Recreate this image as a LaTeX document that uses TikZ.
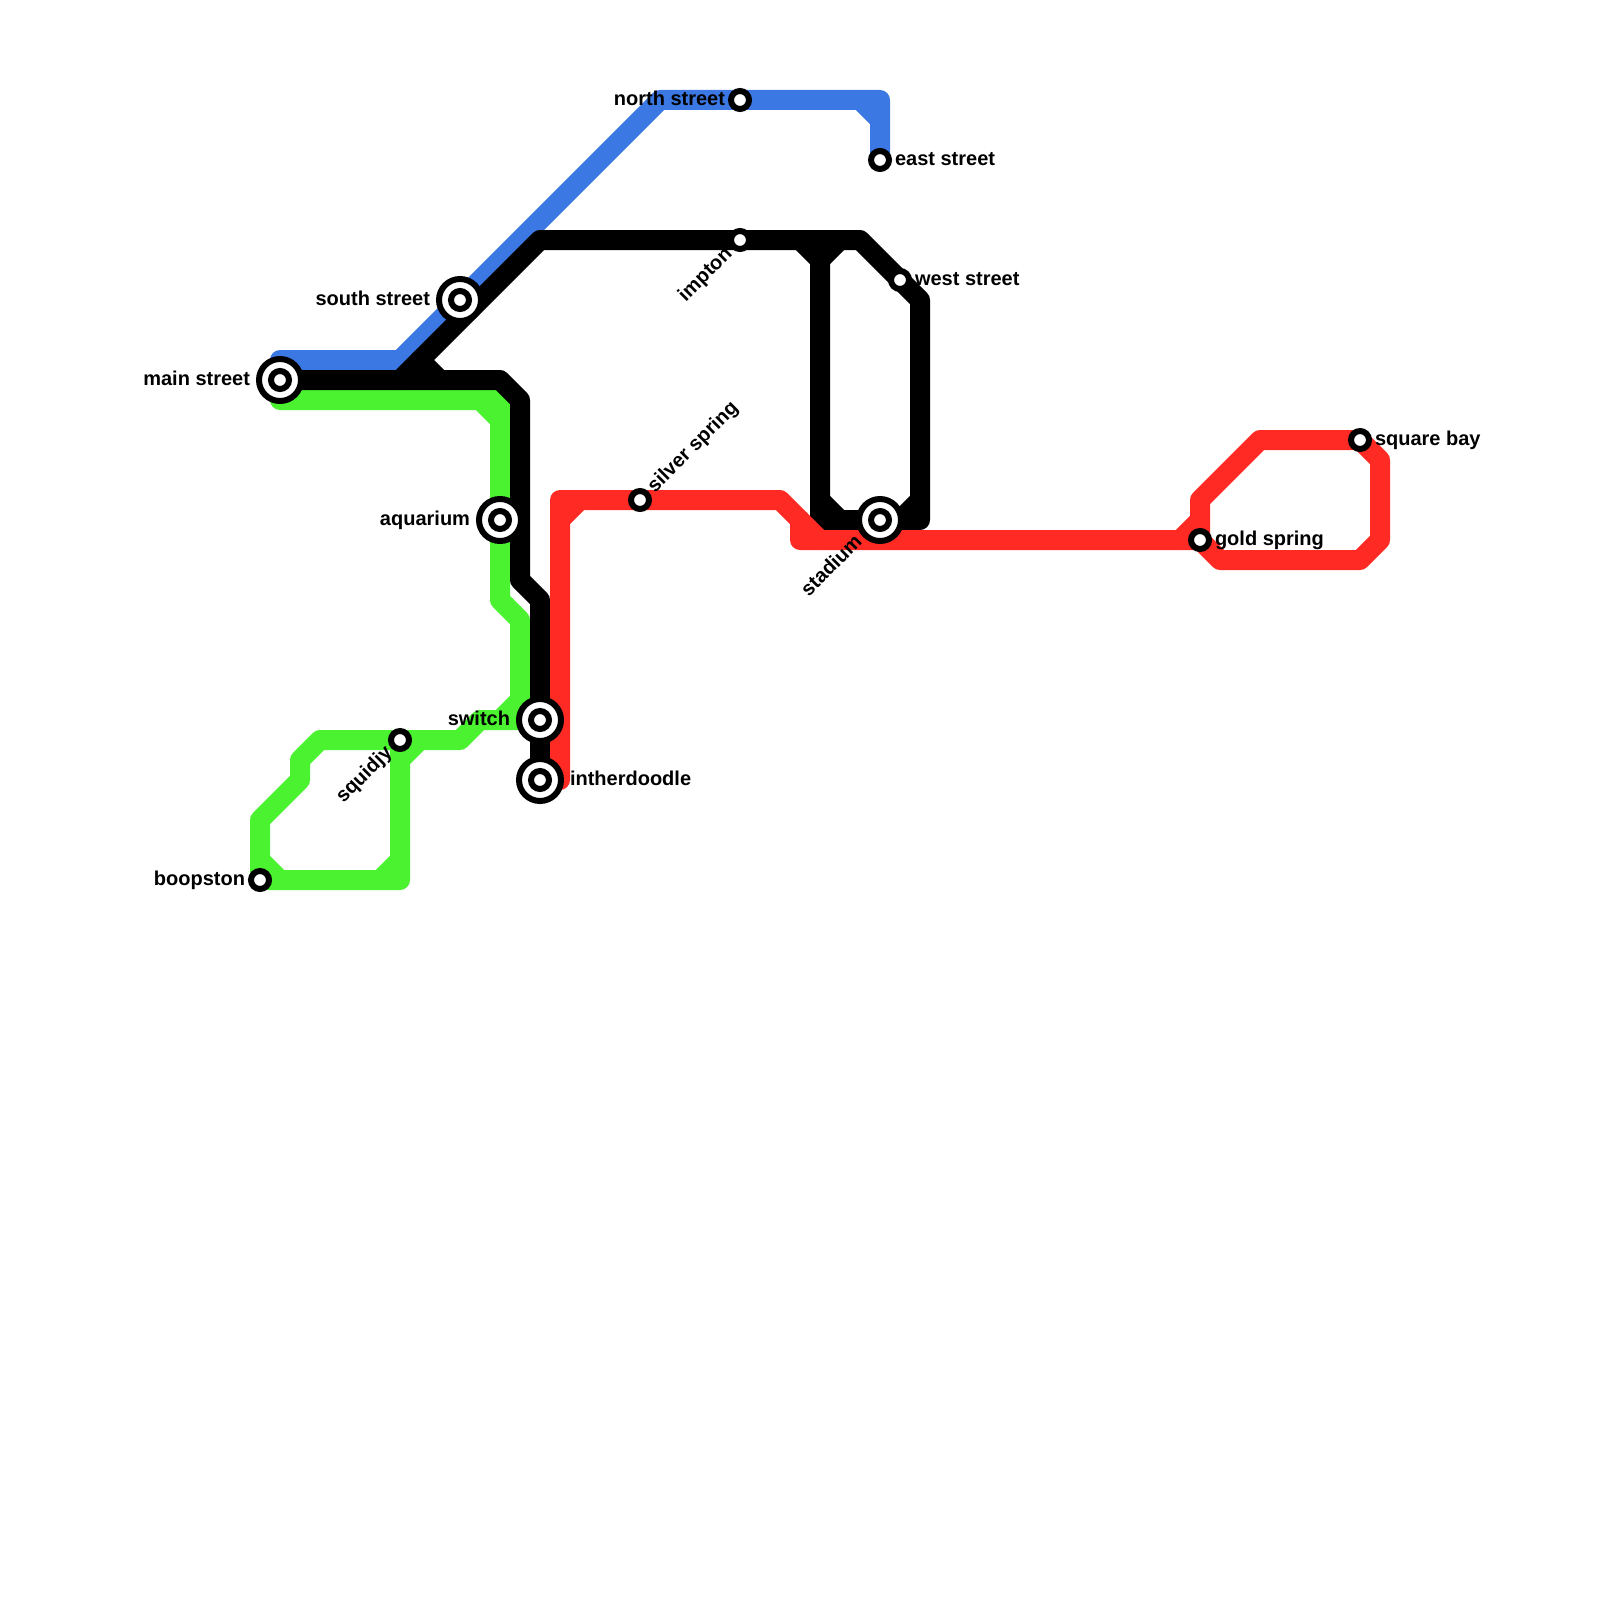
\documentclass[tikz,border=0pt]{standalone}
\usepackage{fontspec}
\setmainfont{Liberation Sans}
\definecolor{lineblue}{HTML}{3C78E4}
\definecolor{linegreen}{HTML}{4AF230}
\definecolor{linered}{HTML}{FF2A24}
\tikzset{
  route/.style={line width=10pt,line cap=round,line join=round},
  bigring/.style={circle,draw=black,fill=white,line width=3pt,minimum size=21pt,inner sep=0pt,outer sep=0pt},
  smallring/.style={circle,draw=black,fill=white,line width=3pt,minimum size=9pt,inner sep=0pt,outer sep=0pt},
  lbl/.style={inner sep=0pt,outer sep=0pt,text=black,font=\bfseries\fontsize{10}{12}\selectfont},
  lblL/.style={lbl,anchor=base east},
  lblR/.style={lbl,anchor=base west},
  lblDL/.style={lbl,anchor=base east,rotate=45},
  lblUR/.style={lbl,anchor=base west,rotate=45}
}
\begin{document}
\begin{tikzpicture}[x=0.5pt,y=-0.5pt]
\useasboundingbox (0,0) rectangle (1600,1600);
% station positions
\coordinate (pmain) at (280,380);
\coordinate (psouth) at (460,300);
\coordinate (paqua) at (500,520);
\coordinate (pswitch) at (540,720);
\coordinate (pinther) at (540,780);
\coordinate (psquid) at (400,740);
\coordinate (pboop) at (260,880);
\coordinate (pnorth) at (740,100);
\coordinate (peast) at (880,160);
\coordinate (pimp) at (740,240);
\coordinate (pwest) at (900,280);
\coordinate (psilver) at (640,500);
\coordinate (pstad) at (880,520);
\coordinate (pgold) at (1200,540);
\coordinate (psquare) at (1360,440);
% blue
\draw[route,lineblue] (280,360) -- (400,360) -- (psouth) -- (660,100) -- (pnorth) -- (880,100) -- (peast);
\draw[route,lineblue] (860,100) -- (880,120);
% green
\draw[route,linegreen] (280,400) -- (500,400) -- (paqua) -- (500,600) -- (520,620) -- (520,700) -- (500,720);
\draw[route,linegreen] (480,400) -- (500,420);
\draw[route,linegreen] (pswitch) -- (480,720) -- (460,740) -- (psquid) -- (320,740) -- (300,760) -- (300,780) -- (260,820) -- (pboop) -- (400,880) -- (psquid);
\draw[route,linegreen] (260,860) -- (280,880);
\draw[route,linegreen] (380,880) -- (400,860);
\draw[route,linegreen] (400,760) -- (420,740);
% black
\draw[route,black] (pmain) -- (500,380) -- (520,400) -- (520,580) -- (540,600) -- (pswitch) -- (pinther);
\draw[route,black] (400,380) -- (540,240) -- (pimp) -- (860,240) -- (pwest) -- (920,300) -- (920,520) -- (pstad) -- (820,520) -- (820,240);
\draw[route,black] (420,360) -- (440,380);
\draw[route,black] (800,240) -- (820,260) -- (840,240);
\draw[route,black] (820,500) -- (840,520);
\draw[route,black] (900,520) -- (920,500);
% red
\draw[route,linered] (560,780) -- (560,500) -- (psilver) -- (780,500) -- (800,520) -- (800,540) -- (pgold) -- (1200,500) -- (1260,440) -- (psquare) -- (1380,460) -- (1380,540) -- (1360,560) -- (1220,560) -- (pgold);
\draw[route,linered] (560,520) -- (580,500);
\draw[route,linered] (800,520) -- (820,540);
\draw[route,linered] (1180,540) -- (1200,520);
% stations
\node[bigring] (smain) at (pmain) {}; \node[smallring] (smaini) at (pmain) {};
\node[bigring] (ssouth) at (psouth) {}; \node[smallring] (ssouthi) at (psouth) {};
\node[bigring] (saqua) at (paqua) {}; \node[smallring] (saquai) at (paqua) {};
\node[bigring] (sswitch) at (pswitch) {}; \node[smallring] (sswitchi) at (pswitch) {};
\node[bigring] (sinther) at (pinther) {}; \node[smallring] (sintheri) at (pinther) {};
\node[bigring] (sstad) at (pstad) {}; \node[smallring] (sstadi) at (pstad) {};
\node[smallring] (ssquid) at (psquid) {};
\node[smallring] (sboop) at (pboop) {};
\node[smallring] (snorth) at (pnorth) {};
\node[smallring] (seast) at (peast) {};
\node[smallring] (simp) at (pimp) {};
\node[smallring] (swest) at (pwest) {};
\node[smallring] (ssilver) at (psilver) {};
\node[smallring] (sgold) at (pgold) {};
\node[smallring] (ssquare) at (psquare) {};
% labels
\node[lblL] (lmain) at (250,385) {main street};
\node[lblL] (lsouth) at (430,305) {south street};
\node[lblL] (laqua) at (470,525) {aquarium};
\node[lblL] (lswitch) at (510,725) {switch};
\node[lblR] (linther) at (570,785) {intherdoodle};
\node[lblL] (lboop) at (245,885) {boopston};
\node[lblL] (lnorth) at (725,105) {north street};
\node[lblR] (least) at (895,165) {east street};
\node[lblR] (lwest) at (915,285) {west street};
\node[lblR] (lgold) at (1215,545) {gold spring};
\node[lblR] (lsquare) at (1375,445) {square bay};
\node[lblDL] (lsquid) at (393,754) {squidjy};
\node[lblDL] (limp) at (733,255) {impton};
\node[lblDL] (lstad) at (863,543) {stadium};
\node[lblUR] (lsilver) at (655,493) {silver spring};
\end{tikzpicture}
\end{document}
